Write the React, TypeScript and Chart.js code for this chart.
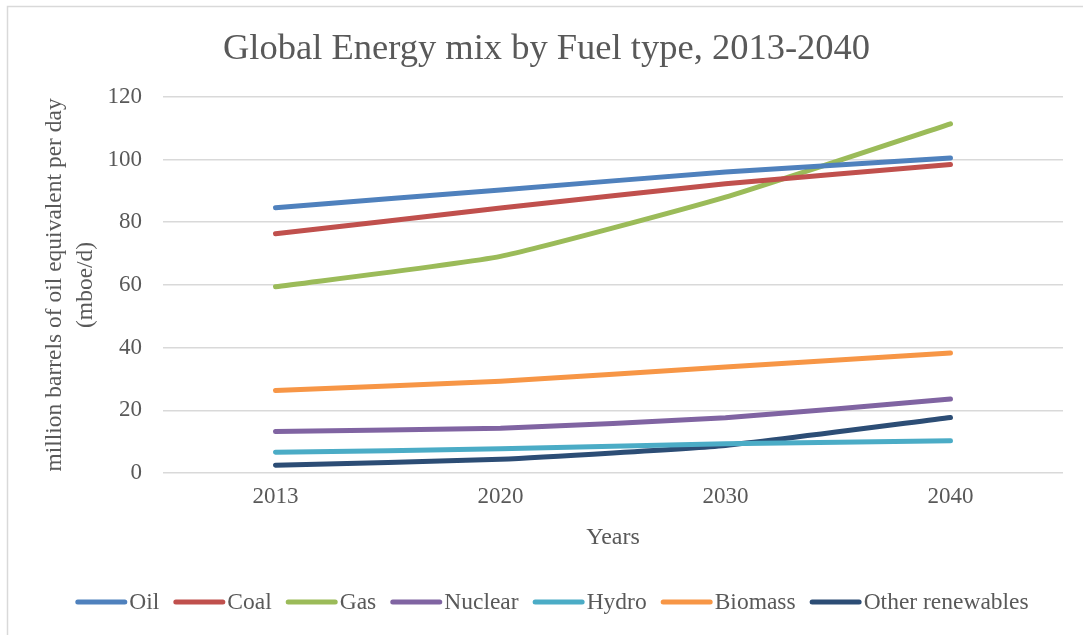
import React, { useEffect, useRef } from "react";
import { Chart, registerables } from "chart.js";

Chart.register(...registerables);

const categories = ["2013", "2020", "2030", "2040"];
const oil = [84.6, 90.3, 96.0, 100.5];
const coal = [76.3, 84.5, 92.3, 98.4];
const gas = [59.4, 69.1, 88.0, 111.4];
const nuclear = [13.2, 14.3, 17.6, 23.6];
const hydro = [6.6, 7.7, 9.3, 10.3];
const biomass = [26.3, 29.3, 33.8, 38.3];
const otherRenewables = [2.5, 4.4, 8.8, 17.7];

const seriesNames = ["Oil", "Coal", "Gas", "Nuclear", "Hydro", "Biomass", "Other renewables"];
const seriesColors = ["#4F81BD", "#C0504D", "#9BBB59", "#8064A2", "#4BACC6", "#F79646", "#2C4D75"];
const seriesValues = [oil, coal, gas, nuclear, hydro, biomass, otherRenewables];

const titleText = "Global Energy mix by Fuel type, 2013-2040";
const yTitle = ["million barrels of oil equivalent per day", "(mboe/d)"];
const xTitle = "Years";

const FONT = "'Liberation Serif', 'DejaVu Serif', serif";
const TEXT = "#595959";
const GRID = "#D9D9D9";

const framePlugin = {
  id: "frame",
  beforeDraw(chart: any) {
    const ctx = chart.ctx;
    ctx.save();
    ctx.fillStyle = "#FFFFFF";
    ctx.fillRect(0, 0, chart.width, chart.height);
    ctx.strokeStyle = GRID;
    ctx.lineWidth = 1.5;
    ctx.beginPath();
    ctx.moveTo(7.5, chart.height + 5);
    ctx.lineTo(7.5, 6.5);
    ctx.lineTo(chart.width + 5, 6.5);
    ctx.stroke();
    ctx.restore();
  },
};

const legendPlugin = {
  id: "customLegend",
  afterDraw(chart: any) {
    const ctx = chart.ctx;
    const fontSize = 23.5;
    const lineLen = 52;
    const gapText = 2;
    const gapItem = 14;
    const cy = 602;
    ctx.save();
    ctx.font = `${fontSize}px ${FONT}`;
    ctx.textBaseline = "middle";
    ctx.textAlign = "left";
    const items = chart.data.datasets.map((ds: any) => ({
      label: ds.label,
      color: ds.borderColor,
      w: ctx.measureText(ds.label).width,
    }));
    let total = 0;
    items.forEach((it: any, i: number) => {
      total += lineLen + gapText + it.w + (i < items.length - 1 ? gapItem : 0);
    });
    let x = 552 - total / 2;
    items.forEach((it: any) => {
      ctx.strokeStyle = it.color;
      ctx.lineWidth = 5;
      ctx.lineCap = "round";
      ctx.beginPath();
      ctx.moveTo(x + 2.5, cy);
      ctx.lineTo(x + lineLen - 2.5, cy);
      ctx.stroke();
      ctx.fillStyle = TEXT;
      ctx.fillText(it.label, x + lineLen + gapText, cy + 1);
      x += lineLen + gapText + it.w + gapItem;
    });
    ctx.restore();
  },
};

export default function App() {
  const canvasRef = useRef<HTMLCanvasElement | null>(null);

  useEffect(() => {
    document.body.style.margin = "0";
    const canvas = canvasRef.current;
    if (!canvas) return;
    const chart = new Chart(canvas, {
      type: "line",
      data: {
        labels: categories,
        datasets: seriesNames.map((name, i) => ({
          label: name,
          data: seriesValues[i],
          borderColor: seriesColors[i],
          backgroundColor: seriesColors[i],
          borderWidth: 5,
          borderCapStyle: "round",
          borderJoinStyle: "round",
          pointRadius: 0,
          pointHoverRadius: 0,
          tension: 0.15,
          fill: false,
        })),
      },
      options: {
        responsive: false,
        animation: false,
        devicePixelRatio: 1,
        layout: { padding: { left: 30, right: 20, top: 0, bottom: 83 } },
        plugins: {
          legend: { display: false },
          tooltip: { enabled: false },
          title: {
            display: true,
            text: titleText,
            color: TEXT,
            font: { family: FONT, size: 36.5, weight: "normal" },
            padding: { top: 28, bottom: 25 },
          },
        },
        scales: {
          x: {
            offset: true,
            grid: { display: false, drawTicks: false },
            border: { display: false },
            ticks: {
              color: TEXT,
              font: { family: FONT, size: 23 },
              padding: 10,
            },
            title: {
              display: true,
              text: xTitle,
              color: TEXT,
              font: { family: FONT, size: 24 },
              padding: { top: 6, bottom: 0 },
            },
            afterFit: (scale: any) => {
              scale.height = 79;
            },
          },
          y: {
            min: 0,
            max: 120,
            grid: { color: GRID, lineWidth: 1.5, drawTicks: false },
            border: { display: false },
            ticks: {
              stepSize: 20,
              color: TEXT,
              font: { family: FONT, size: 23 },
              padding: 21,
            },
            title: {
              display: true,
              text: yTitle,
              color: TEXT,
              font: { family: FONT, size: 23.5, lineHeight: 1.32 },
              padding: { top: 9, bottom: 8 },
            },
            afterFit: (scale: any) => {
              scale.width = 133;
            },
          },
        },
      },
      plugins: [framePlugin, legendPlugin],
    } as any);
    return () => chart.destroy();
  }, []);

  return (
    <div style={{ position: "absolute", left: 0, top: 0, width: 1083, height: 635 }}>
      <canvas ref={canvasRef} width={1083} height={635} />
    </div>
  );
}
